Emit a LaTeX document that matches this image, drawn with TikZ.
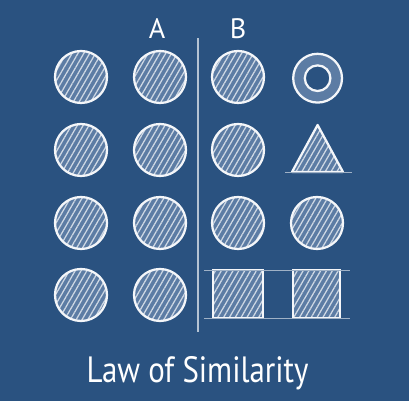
\documentclass[tikz,border=0pt]{standalone}
\usepackage{fontspec}
\setmainfont{PT Sans}
\usetikzlibrary{positioning,patterns.meta}

\definecolor{boardblue}{RGB}{42,82,128}
\definecolor{chalkfill}{RGB}{92,124,164}
\tikzset{
  chalk/.style={draw=white!95!boardblue, line width=1.6pt},
  shaded/.style={chalk, preaction={fill=chalkfill},
    pattern={Lines[angle=60,distance=3.6pt,line width=0.9pt]},
    pattern color=white!70!chalkfill},
  label/.style={text=white, inner sep=0pt}
}

\begin{document}
\begin{tikzpicture}
\useasboundingbox (0,0) rectangle (10.225,10.025);
\fill[boardblue] (0,0) rectangle (10.225,10.025);

% column heads and divider
\node[label, font=\fontsize{20}{24}\selectfont] (headA) at (3.93,9.32) {A};
\node[label, font=\fontsize{20}{24}\selectfont] (headB) at (5.95,9.32) {B};
\draw[white!65!boardblue, line width=0.9pt] (4.95,9.07) -- (4.95,1.72);

% group A: all circles
\foreach \y in {8.1,6.275,4.45,2.65} {
  \draw[shaded] (2.025,\y) circle (0.65);
  \draw[shaded] (4.0,\y) circle (0.65);
}

% group B: circles
\foreach \y in {8.1,6.275,4.45} {
  \draw[shaded] (5.95,\y) circle (0.65);
}
\draw[shaded] (7.925,4.45) circle (0.65);

% ring
\draw[chalk, fill=chalkfill] (7.94,8.07) circle (0.61);
\draw[chalk, fill=boardblue] (7.94,8.07) circle (0.32);

% triangle
\draw[shaded, line join=round] (7.3,5.725) -- (7.94,6.9) -- (8.575,5.725) -- cycle;
\draw[white!55!boardblue, line width=0.6pt] (7.13,5.725) -- (8.8,5.725);

% squares
\draw[shaded] (5.325,2.075) rectangle (6.575,3.275);
\draw[shaded] (7.325,2.075) rectangle (8.5,3.275);
\draw[white!55!boardblue, line width=0.6pt] (5.1,3.275) -- (8.75,3.275);
\draw[white!55!boardblue, line width=0.6pt] (5.1,2.075) -- (8.75,2.075);

% caption
\node[label, font=\fontsize{26}{31}\selectfont, anchor=base] (caption) at (4.94,0.45)
  {\scalebox{0.845}[1]{Law of Similarity}};
\end{tikzpicture}
\end{document}
